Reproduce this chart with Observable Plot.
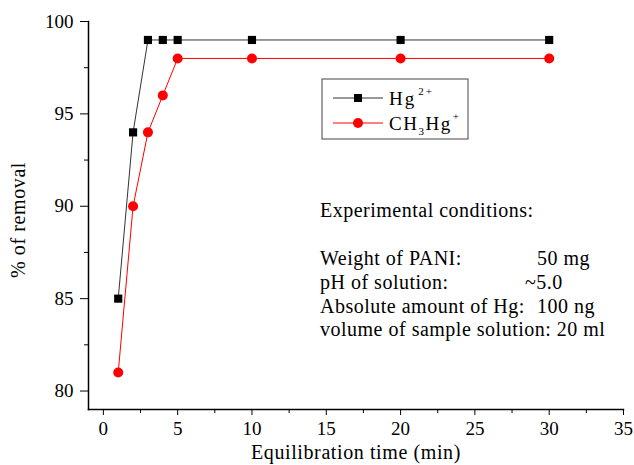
<!DOCTYPE html>
<html><head><meta charset="utf-8">
<script src="https://cdn.jsdelivr.net/npm/d3@7"></script>
<script src="https://cdn.jsdelivr.net/npm/@observablehq/plot@0.6"></script>
<style>html,body{margin:0;padding:0;background:#fff;}</style>
</head><body><div id="chart"></div>
<script>
const times = [1, 2, 3, 4, 5, 10, 20, 30];
const hgValues = [85, 94, 99, 99, 99, 99, 99, 99];
const ch3hgValues = [81, 90, 94, 96, 98, 98, 98, 98];
const xTicks = [0, 5, 10, 15, 20, 25, 30, 35];
const xMinor = [2.5, 7.5, 12.5, 17.5, 22.5, 27.5, 32.5];
const yTicks = [80, 85, 90, 95, 100];
const yMinor = [82.5, 87.5, 92.5, 97.5];
const condKeys = ["Weight of PANI:", "pH of solution:", "Absolute amount of Hg:", "volume of sample solution:"];
const condValues = ["50 mg", "~5.0", "100 ng", "20 ml"];

const hg = times.map((t, i) => ({t, v: hgValues[i]}));
const ch = times.map((t, i) => ({t, v: ch3hgValues[i]}));
const FONT = "Liberation Serif";

const chart = Plot.plot({
  width: 634, height: 465,
  marginLeft: 88, marginRight: 11, marginTop: 21, marginBottom: 56,
  style: {fontFamily: FONT, fontSize: "19px", background: "#fff", color: "#000"},
  x: {domain: [-1, 35]},
  y: {domain: [79, 100]},
  marks: [
    Plot.axisX({ticks: xTicks, tickSize: 6, tickPadding: 6, label: null, tickFormat: d => d}),
    Plot.axisX({ticks: xMinor, tickSize: 4, tickFormat: () => "", label: null}),
    Plot.axisY({ticks: yTicks, tickSize: 8, tickPadding: 7, label: null, tickFormat: d => d}),
    Plot.axisY({ticks: yMinor, tickSize: 4, tickFormat: () => "", label: null}),
    Plot.frame({anchor: "left", stroke: "#000", strokeWidth: 1.5}),
    Plot.frame({anchor: "bottom", stroke: "#000", strokeWidth: 1.5}),
    Plot.line(hg, {x: "t", y: "v", stroke: "#333", strokeWidth: 1}),
    Plot.dot(hg, {x: "t", y: "v", symbol: "square", fill: "#000", r: 4.6}),
    Plot.line(ch, {x: "t", y: "v", stroke: "#f00", strokeWidth: 1}),
    Plot.dot(ch, {x: "t", y: "v", fill: "#f00", r: 5})
  ]
});
document.getElementById("chart").appendChild(chart);

const svg = d3.select(chart);
const g = svg.append("g").attr("font-family", FONT).attr("fill", "#000").attr("text-anchor", "start");

// axis titles
g.append("text").attr("x", 356).attr("y", 459).attr("text-anchor", "middle")
  .attr("font-size", 20).attr("letter-spacing", 0.6).text("Equilibration time (min)");
g.append("text").attr("transform", "translate(25,220) rotate(-90)").attr("text-anchor", "middle")
  .attr("font-size", 20).attr("letter-spacing", 0.6).text("% of removal");

// legend
g.append("rect").attr("x", 322).attr("y", 79).attr("width", 146).attr("height", 60)
  .attr("fill", "none").attr("stroke", "#444").attr("stroke-width", 1);
g.append("line").attr("x1", 333).attr("x2", 383).attr("y1", 98).attr("y2", 98).attr("stroke", "#333");
g.append("rect").attr("x", 354).attr("y", 94).attr("width", 8).attr("height", 8).attr("fill", "#000");
g.append("line").attr("x1", 333).attr("x2", 383).attr("y1", 123).attr("y2", 123).attr("stroke", "#f00");
g.append("circle").attr("cx", 358).attr("cy", 123).attr("r", 5).attr("fill", "#f00");
const t1 = g.append("text").attr("x", 389).attr("y", 105).attr("font-size", 19).attr("letter-spacing", 2);
t1.append("tspan").text("Hg");
t1.append("tspan").attr("font-size", 11).attr("dx", 2).attr("dy", -10).text("2+");
const t2 = g.append("text").attr("x", 389).attr("y", 130).attr("font-size", 19).attr("letter-spacing", 1.5);
t2.append("tspan").text("CH");
t2.append("tspan").attr("font-size", 11).attr("dy", 5).text("3");
t2.append("tspan").attr("dy", -5).text("Hg");
t2.append("tspan").attr("font-size", 11).attr("dx", 1).attr("dy", -10).text("+");

// conditions annotation
g.append("text").attr("x", 320).attr("y", 217).attr("font-size", 20).attr("letter-spacing", 0.5)
  .text("Experimental conditions:");
const baselines = [265, 289, 313, 336];
const valueX = [537, 525, 537];
condKeys.forEach((k, i) => {
  const t = g.append("text").attr("x", 320).attr("y", baselines[i]).attr("font-size", 20).attr("letter-spacing", 0.5);
  if (i < 3) {
    t.text(k);
    g.append("text").attr("x", valueX[i]).attr("y", baselines[i]).attr("font-size", 20)
      .attr("letter-spacing", 0.5).text(condValues[i]);
  } else {
    t.text(k + " " + condValues[i]);
  }
});
</script></body></html>
